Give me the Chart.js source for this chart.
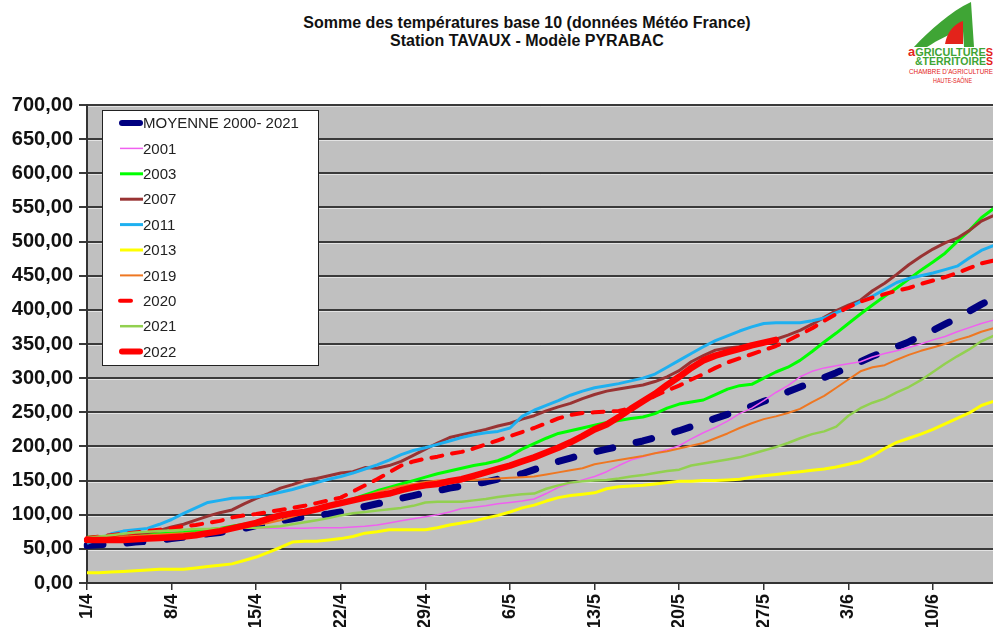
<!DOCTYPE html>
<html lang="fr">
<head>
    <meta charset="UTF-8">
    <title>Somme des températures base 10 - Station TAVAUX</title>
    <script src="https://cdn.jsdelivr.net/npm/chart.js"></script>
    <style>
        body {
            margin: 0;
            width: 993px;
            height: 627px;
            overflow: hidden;
            position: relative;
            background: #ffffff;
            font-family: "Liberation Sans", Arial, sans-serif;
        }
        /* plus large que la fenetre : le graphique est coupe a droite comme l'original */
        .chart-box {
            position: absolute;
            left: 0;
            top: 0;
            width: 1019px;
            height: 627px;
        }
        .titre {
            position: absolute;
            left: 277px;
            top: 14px;
            width: 500px;
            text-align: center;
            font-weight: bold;
            font-size: 16px;
            line-height: 18px;
            color: #111;
        }
        .logo {
            position: absolute;
            left: 900px;
            top: 0;
        }
    </style>
</head>
<body>
    <div class="titre">Somme des températures base 10 (données Météo France)<br>Station TAVAUX - Modèle PYRABAC</div>

    <svg class="logo" width="93" height="100" viewBox="900 0 93 100">
        <path d="M914 47 C930 30 950 12 971 2 L974 47 L964 47 L963 31 C950 33 938 40 927 47 Z" fill="#3fa535"/>
        <path d="M945 44 C947 32 954 24 963 21 L963 44 Z" fill="#e3231b"/>
        <text x="908" y="56" textLength="85" lengthAdjust="spacingAndGlyphs" font-family="Liberation Sans, Arial" font-weight="bold" font-size="11" fill="#3fa535"><tspan fill="#e3231b" font-size="13">a</tspan>GRICULTURE<tspan fill="#e3231b">S</tspan></text>
        <text x="915" y="65" textLength="78" lengthAdjust="spacingAndGlyphs" font-family="Liberation Sans, Arial" font-weight="bold" font-size="10" fill="#3fa535">&amp;TERRITOIRE<tspan fill="#e3231b">S</tspan></text>
        <text x="909" y="74" textLength="84" lengthAdjust="spacingAndGlyphs" font-family="Liberation Sans, Arial" font-size="7" fill="#e3231b">CHAMBRE D'AGRICULTURE</text>
        <text x="933" y="83" textLength="39" lengthAdjust="spacingAndGlyphs" font-family="Liberation Sans, Arial" font-size="7" fill="#e3231b">HAUTE-SAÔNE</text>
    </svg>

    <div class="chart-box">
        <canvas id="sommeChart"></canvas>
    </div>

    <script>
        // jours du 1/4 au 15/6
        const jours = [
            '1/4','2/4','3/4','4/4','5/4','6/4','7/4','8/4','9/4','10/4','11/4','12/4','13/4','14/4','15/4',
            '16/4','17/4','18/4','19/4','20/4','21/4','22/4','23/4','24/4','25/4','26/4','27/4','28/4','29/4','30/4',
            '1/5','2/5','3/5','4/5','5/5','6/5','7/5','8/5','9/5','10/5','11/5','12/5','13/5','14/5','15/5',
            '16/5','17/5','18/5','19/5','20/5','21/5','22/5','23/5','24/5','25/5','26/5','27/5','28/5','29/5','30/5','31/5',
            '1/6','2/6','3/6','4/6','5/6','6/6','7/6','8/6','9/6','10/6','11/6','12/6','13/6','14/6','15/6'
        ];

        const moyenne = [55,56,57,58,60,61,63,65,67,69, 72,74,77,80,84,87,91,94,97,99,
            101,104,108,112,116,120,124,128,132,135, 139,142,145,148,152,155,160,166,172,178,
            183,188,192,196,200,204,208,213,218,223, 229,235,241,247,253,259,266,273,280,287,
            294,301,308,316,324,332,339,346,353,362, 370,379,388,398,408,417];

        const an2001 = [64,65,66,67,69,71,73,75,77,78, 79,79,80,80,80,80,80,80,80,81,
            81,81,82,83,85,88,91,94,97,100, 104,109,111,113,116,118,120,123,131,140,
            146,151,156,163,172,180,185,190,195,201, 211,220,228,237,248,256,267,279,289,302,
            310,315,318,321,324,331,336,340,345,350, 356,361,368,374,380,385];

        const an2003 = [67,68,68,69,70,71,72,73,74,76, 78,80,83,86,89,93,97,101,105,109,
            113,117,123,129,135,140,145,150,155,160, 164,168,172,175,179,186,196,204,212,219,
            223,227,231,235,238,241,243,248,256,262, 265,268,276,284,289,291,300,309,316,326,
            339,353,366,380,394,407,420,432,445,458, 470,483,500,516,535,548];

        const an2007 = [66,67,68,70,72,74,77,82,86,92, 98,103,107,116,124,131,139,144,150,153,
            157,161,163,169,168,172,178,187,196,205, 213,217,221,225,230,234,240,245,252,258,
            263,270,276,281,284,287,290,295,302,311, 324,333,341,344,346,349,353,357,363,370,
            379,389,399,407,414,428,439,452,466,478, 489,498,505,516,530,538];

        const an2011 = [58,65,72,76,78,80,86,93,102,110, 118,121,124,125,126,129,133,137,142,147,
            152,156,161,167,173,180,188,194,198,203, 208,213,217,220,222,227,244,253,260,267,
            275,281,286,289,292,296,300,306,316,326, 336,346,355,362,369,375,380,381,381,381,
            384,388,396,403,412,420,430,440,446,450, 454,459,464,476,487,494];

        const an2013 = [15,15,16,17,18,19,20,20,20,22, 24,26,28,33,38,45,52,60,61,61,
            63,65,68,73,75,78,78,78,78,81, 85,88,91,95,99,104,110,114,120,125,
            128,130,132,138,141,142,143,145,147,149, 149,150,150,151,152,155,157,159,161,163,
            165,167,170,174,178,186,197,206,212,218, 225,233,241,249,260,266];

        const an2019 = [65,66,67,68,69,70,71,72,73,74, 76,78,80,83,85,88,92,97,102,107,
            112,117,122,127,133,138,142,145,148,150, 151,151,151,152,153,154,155,156,159,162,
            165,168,174,177,180,183,186,190,193,197, 201,205,212,219,227,234,240,244,249,255,
            265,274,286,298,310,316,319,327,334,340, 345,350,356,361,368,373];

        const an2020 = [66,68,70,72,74,76,78,80,83,85, 88,91,96,99,101,104,107,110,113,117,
            121,125,134,143,152,162,172,178,182,185, 189,192,197,203,209,215,221,227,234,241,
            246,249,250,251,252,256,265,274,282,289, 298,306,315,323,329,335,341,347,355,364,
            373,384,394,404,412,418,423,428,432,438, 443,448,454,461,468,472];

        const an2021 = [66,68,70,72,74,75,76,77,78,79, 79,80,80,81,81,82,83,86,89,92,
            95,99,102,104,106,108,110,113,118,119, 119,119,121,123,126,128,130,131,138,143,
            147,149,150,151,153,156,158,161,164,166, 172,175,178,181,184,189,194,199,205,212,
            218,222,229,245,256,264,270,279,287,297, 309,321,332,342,354,362];

        const an2022 = [63,63,63,63,64,65,66,67,68,70, 73,76,80,84,88,94,99,102,104,108,
            113,117,121,125,128,131,136,140,143,145, 149,152,157,162,167,172,178,184,191,198,
            206,215,225,232,243,255,266,277,290,302, 315,326,333,338,343,348,352,356];

        const police = '"Liberation Sans", Arial, sans-serif';

        const datasets = [
            { label: 'MOYENNE 2000- 2021', data: moyenne, borderColor: '#000080', borderWidth: 7, borderDash: [16, 24], borderCapStyle: 'round' },
            { label: '2001', data: an2001, borderColor: '#f060f0', borderWidth: 1.5 },
            { label: '2003', data: an2003, borderColor: '#00ff00', borderWidth: 3 },
            { label: '2007', data: an2007, borderColor: '#993333', borderWidth: 3 },
            { label: '2011', data: an2011, borderColor: '#1eb0f0', borderWidth: 3 },
            { label: '2013', data: an2013, borderColor: '#ffff00', borderWidth: 3 },
            { label: '2019', data: an2019, borderColor: '#ee7722', borderWidth: 2 },
            { label: '2020', data: an2020, borderColor: '#ff0000', borderWidth: 4, borderDash: [11, 10], borderCapStyle: 'round' },
            { label: '2021', data: an2021, borderColor: '#92d050', borderWidth: 2.5 },
            { label: '2022', data: an2022, borderColor: '#ff0000', borderWidth: 6.5, borderCapStyle: 'round' }
        ];
        // excel dessine la derniere serie au-dessus
        datasets.forEach((d, i) => {
            d.order = datasets.length - i;
            d.pointRadius = 0;
            d.fill = false;
            d.tension = 0;
            d.borderJoinStyle = 'round';
        });

        const fondGris = {
            id: 'fondGris',
            beforeDraw(chart) {
                const { ctx, chartArea: a } = chart;
                ctx.save();
                ctx.fillStyle = '#c0c0c0';
                ctx.fillRect(a.left, a.top, a.right - a.left, a.bottom - a.top);
                ctx.restore();
            },
            beforeDatasetsDraw(chart) {
                // petit liseré clair sous chaque ligne de grille
                const { ctx, chartArea: a, scales } = chart;
                ctx.save();
                ctx.strokeStyle = 'rgba(235,235,235,0.8)';
                ctx.lineWidth = 1;
                scales.y.ticks.forEach(t => {
                    const y = Math.round(scales.y.getPixelForValue(t.value)) + 1.5;
                    if (y > a.bottom) return;
                    ctx.beginPath();
                    ctx.moveTo(a.left + 1, y);
                    ctx.lineTo(a.right, y);
                    ctx.stroke();
                });
                ctx.restore();
            }
        };

        const legendeBox = {
            id: 'legendeBox',
            afterDatasetsDraw(chart) {
                const ctx = chart.ctx;
                ctx.save();
                ctx.fillStyle = '#ffffff';
                ctx.fillRect(102.5, 110.5, 216, 255);
                ctx.strokeStyle = '#222';
                ctx.lineWidth = 1;
                ctx.strokeRect(102.5, 110.5, 216, 255);
                ctx.font = '15px ' + police;
                ctx.textBaseline = 'middle';
                chart.data.datasets.forEach((d, i) => {
                    const y = 123 + i * 25.4;
                    ctx.strokeStyle = d.borderColor;
                    ctx.lineWidth = Math.min(d.borderWidth, 6);
                    ctx.lineCap = d.borderCapStyle || 'butt';
                    ctx.setLineDash(d.label === '2020' ? d.borderDash : []);
                    ctx.beginPath();
                    if (ctx.lineCap === 'round') {
                        ctx.moveTo(d.label === '2020' ? 120 : 122, y);
                        ctx.lineTo(140, y);
                    } else {
                        ctx.moveTo(120, y);
                        ctx.lineTo(143, y);
                    }
                    ctx.stroke();
                    ctx.setLineDash([]);
                    ctx.fillStyle = '#222';
                    ctx.fillText(d.label, 143, y + 1);
                });
                ctx.restore();
            }
        };

        new Chart(document.getElementById('sommeChart'), {
            type: 'line',
            data: { labels: jours, datasets: datasets },
            options: {
                responsive: true,
                maintainAspectRatio: false,
                animation: false,
                layout: { padding: { top: 105, right: 0, left: 0, bottom: 0 } },
                plugins: {
                    legend: { display: false },
                    tooltip: { enabled: false }
                },
                scales: {
                    x: {
                        grid: {
                            drawOnChartArea: false,
                            tickLength: 7,
                            lineWidth: 1.5,
                            tickColor: c => (c.index % 7 === 0 ? '#333' : 'rgba(0,0,0,0)')
                        },
                        border: { color: '#333', width: 2 },
                        ticks: {
                            autoSkip: false,
                            minRotation: 90,
                            maxRotation: 90,
                            padding: 4,
                            color: '#111',
                            font: { family: police, size: 18, weight: 'bold' },
                            callback: (v, i) => (i % 7 === 0 ? jours[i] : '')
                        },
                        afterFit: s => { s.height = 44; }
                    },
                    y: {
                        min: 0,
                        max: 700,
                        ticks: {
                            stepSize: 50,
                            padding: 6,
                            color: '#111',
                            font: { family: police, size: 20, weight: 'bold' },
                            callback: v => v.toFixed(2).replace('.', ',')
                        },
                        grid: { color: '#3a3a3a', lineWidth: 2, tickLength: 8 },
                        border: { color: '#333', width: 2 },
                        afterFit: s => { s.width = 87; }
                    }
                }
            },
            plugins: [fondGris, legendeBox]
        });
    </script>
</body>
</html>
